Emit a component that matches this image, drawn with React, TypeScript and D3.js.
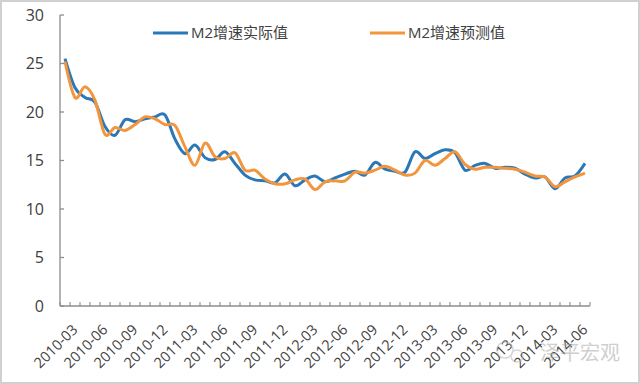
import React from "react";
import * as d3 from "d3";

const months: string[] = [];
for (let y = 2010; y <= 2014; y++) {
  for (let m = 1; m <= 12; m++) {
    if (y === 2010 && m < 2) continue;
    if (y === 2014 && m > 6) continue;
    months.push(`${y}-${String(m).padStart(2, "0")}`);
  }
}

const actual = [
  25.5, 22.5, 21.5, 21.0, 18.5, 17.6, 19.2, 19.0, 19.3, 19.5, 19.7,
  17.2, 15.7, 16.6, 15.3, 15.1, 15.9, 14.7, 13.5, 13.0, 12.9, 12.7, 13.6,
  12.4, 13.0, 13.4, 12.8, 13.2, 13.6, 13.9, 13.5, 14.8, 14.1, 13.9, 13.8,
  15.9, 15.2, 15.7, 16.1, 15.8, 14.0, 14.5, 14.7, 14.2, 14.3, 14.2, 13.6,
  13.2, 13.3, 12.1, 13.2, 13.4, 14.7,
];

const predicted = [
  25.2, 21.5, 22.6, 21.2, 17.7, 18.4, 18.1, 18.7, 19.5, 19.3, 18.7,
  18.6, 16.4, 14.5, 16.8, 15.4, 15.2, 15.8, 14.0, 14.0, 13.1, 12.6, 12.6,
  13.0, 13.1, 12.0, 12.8, 12.9, 12.9, 13.8, 13.7, 14.0, 14.4, 14.0, 13.5,
  13.7, 15.0, 14.5, 15.2, 15.9, 14.6, 14.1, 14.3, 14.3, 14.2, 14.1, 13.8,
  13.4, 13.3, 12.3, 12.8, 13.3, 13.7,
];

const yTicks = [0, 5, 10, 15, 20, 25, 30];
const labelMonths = ["03", "06", "09", "12"];
const seriesNames = ["M2增速实际值", "M2增速预测值"];
const colors = ["#2A78B8", "#F2953C"];

export default function App() {
  const W = 640, H = 384;
  const x0 = 60, x1 = 590, yTop = 15, yBot = 306;
  const x = d3.scaleBand<string>().domain(months).range([x0, x1]);
  const y = d3.scaleLinear().domain([0, 30]).range([yBot, yTop]);
  const cx = (m: string) => (x(m) as number) + x.bandwidth() / 2;
  const line = d3
    .line<number>()
    .x((_, i) => cx(months[i]))
    .y((d) => y(d))
    .curve(d3.curveCardinal.tension(0));
  const axisColor = "#8C8C8C";
  const textColor = "#404040";
  const font = "'Open Sans', 'Noto Sans CJK SC', sans-serif";
  const boundaries = d3.range(months.length + 1).map((k) => x0 + k * x.step());

  return (
    <svg width={W} height={H} style={{ position: "absolute", left: 0, top: 0, background: "#fff" }}>
      <rect x={1} y={1} width={W - 2} height={H - 2} fill="#fff" stroke="#D0D0D0" strokeWidth={2} />
      <line x1={x0} x2={x0} y1={yTop} y2={yBot} stroke={axisColor} strokeWidth={1.3} />
      {yTicks.map((t) => (
        <g key={t}>
          <line x1={x0} x2={x0 + 4} y1={y(t)} y2={y(t)} stroke={axisColor} strokeWidth={1.3} />
          <text x={44} y={y(t)} dy="0.35em" textAnchor="end" fontSize={16} fill={textColor} fontFamily={font}>
            {t}
          </text>
        </g>
      ))}
      <line x1={x0} x2={x1} y1={yBot} y2={yBot} stroke={axisColor} strokeWidth={1.3} />
      {boundaries.map((b, i) => (
        <line key={i} x1={b} x2={b} y1={yBot} y2={yBot - 4} stroke={axisColor} strokeWidth={1.1} />
      ))}
      {months
        .filter((m) => labelMonths.includes(m.slice(5)))
        .map((m) => (
          <text
            key={m}
            transform={`translate(${cx(m)},${yBot + 21}) rotate(-45)`}
            textAnchor="end"
            dy="0.35em"
            fontSize={14.5}
            fill={textColor}
            fontFamily={font}
          >
            {m}
          </text>
        ))}
      <path d={line(actual) || ""} fill="none" stroke={colors[0]} strokeWidth={3} strokeLinejoin="round" />
      <path d={line(predicted) || ""} fill="none" stroke={colors[1]} strokeWidth={3} strokeLinejoin="round" />
      {[153, 370].map((lx, i) => (
        <g key={i}>
          <line x1={lx} x2={lx + 35} y1={33} y2={33} stroke={colors[i]} strokeWidth={3} />
          <text x={lx + 38} y={33} dy="0.35em" fontSize={15} fill={textColor} fontFamily={font}>
            {seriesNames[i]}
          </text>
        </g>
      ))}
      <g opacity={0.55}>
        <circle cx={505} cy={350} r={8} fill="none" stroke="#B8B8B8" strokeWidth={1.5} />
        <circle cx={517} cy={356} r={6} fill="none" stroke="#B8B8B8" strokeWidth={1.5} />
        <text x={540} y={353} dy="0.35em" fontSize={20} fill="#A8A8A8" fontFamily="'Noto Sans CJK SC', sans-serif">
          泽平宏观
        </text>
      </g>
    </svg>
  );
}
